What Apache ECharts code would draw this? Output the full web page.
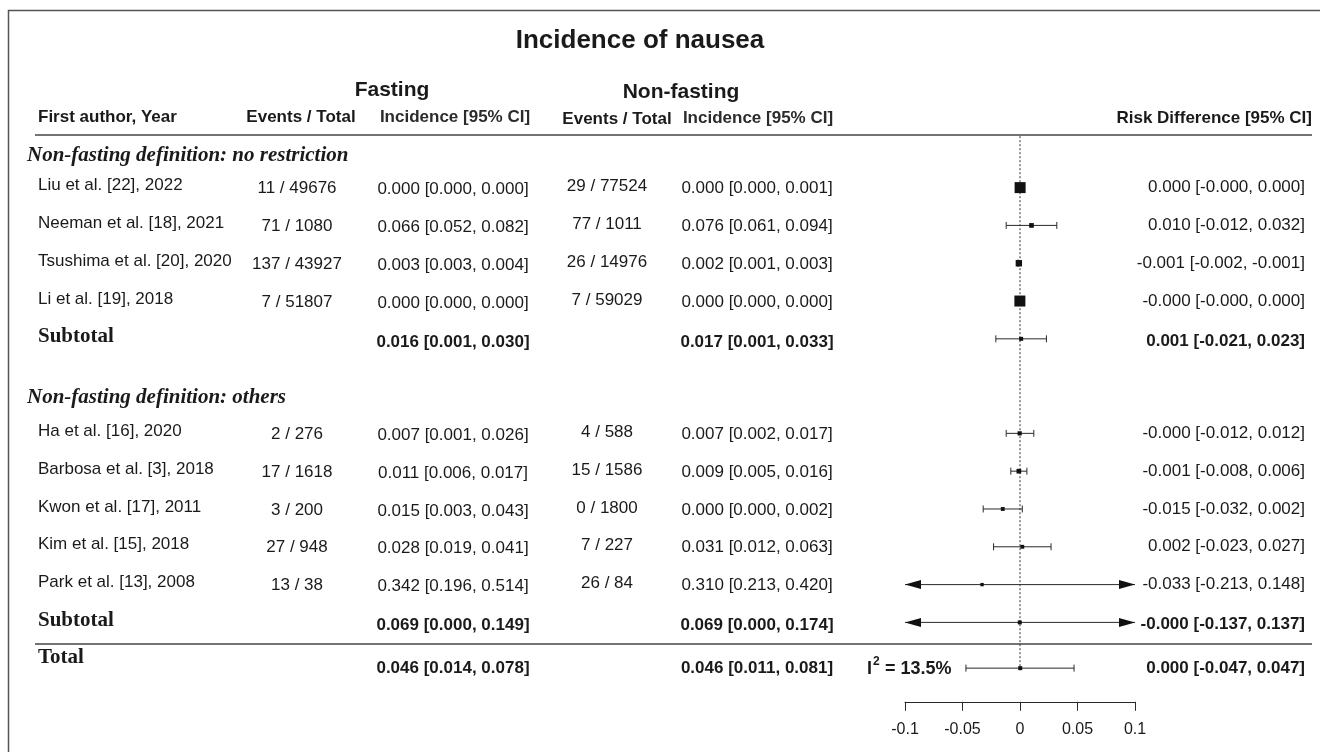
<!DOCTYPE html>
<html>
<head>
<meta charset="utf-8">
<script src="https://cdn.jsdelivr.net/npm/echarts@6/dist/echarts.min.js"></script>
<style>html,body{margin:0;padding:0;background:#fff}#c{width:1320px;height:752px}</style>
</head>
<body>
<div id="c"></div>
<script>
// ---------------- DATA ----------------
const chartTitle = 'Incidence of nausea';
const groupLabels = ['Non-fasting definition: no restriction', 'Non-fasting definition: others'];
const studies = ['Liu et al. [22], 2022', 'Neeman et al. [18], 2021', 'Tsushima et al. [20], 2020', 'Li et al. [19], 2018',
  'Ha et al. [16], 2020', 'Barbosa et al. [3], 2018', 'Kwon et al. [17], 2011', 'Kim et al. [15], 2018', 'Park et al. [13], 2008'];
const studyGroup = [0, 0, 0, 0, 1, 1, 1, 1, 1];
const fastEvents = [11, 71, 137, 7, 2, 17, 3, 27, 13];
const fastTotal = [49676, 1080, 43927, 51807, 276, 1618, 200, 948, 38];
const fastInc = [[0.000, 0.000, 0.000], [0.066, 0.052, 0.082], [0.003, 0.003, 0.004], [0.000, 0.000, 0.000],
  [0.007, 0.001, 0.026], [0.011, 0.006, 0.017], [0.015, 0.003, 0.043], [0.028, 0.019, 0.041], [0.342, 0.196, 0.514]];
const nonEvents = [29, 77, 26, 7, 4, 15, 0, 7, 26];
const nonTotal = [77524, 1011, 14976, 59029, 588, 1586, 1800, 227, 84];
const nonInc = [[0.000, 0.000, 0.001], [0.076, 0.061, 0.094], [0.002, 0.001, 0.003], [0.000, 0.000, 0.000],
  [0.007, 0.002, 0.017], [0.009, 0.005, 0.016], [0.000, 0.000, 0.002], [0.031, 0.012, 0.063], [0.310, 0.213, 0.420]];
const riskDiff = [[0.0001, -0.0001, 0.0003], [0.010, -0.012, 0.032], [-0.001, -0.002, -0.001], [-0.0001, -0.0003, 0.0001],
  [-0.0003, -0.012, 0.012], [-0.001, -0.008, 0.006], [-0.015, -0.032, 0.002], [0.002, -0.023, 0.027], [-0.033, -0.213, 0.148]];
const studyWeights = [45, 2, 8, 45, 1, 2, 0.5, 0.5, 0.1];
const subFastInc = [[0.016, 0.001, 0.030], [0.069, 0.000, 0.149]];
const subNonInc = [[0.017, 0.001, 0.033], [0.069, 0.000, 0.174]];
const subRiskDiff = [[0.001, -0.021, 0.023], [-0.0002, -0.137, 0.137]];
const totalFastInc = [0.046, 0.014, 0.078];
const totalNonInc = [0.046, 0.011, 0.081];
const totalRiskDiff = [0.0002, -0.047, 0.047];
const i2Value = 13.5;
const xTicks = [-0.1, -0.05, 0, 0.05, 0.1];

// ---------------- LAYOUT / STYLE ----------------
const SANS = "'Liberation Sans', Arial, Helvetica, sans-serif";
const SERIF = "'Liberation Serif', 'Times New Roman', serif";
const INK = '#1a1a1a';
const LINE = '#2a2a2a';
const FS = 17;
const X = { group: 27, name: 38, fe: 297, fi: 453, ne: 607, ni: 757, rd: 1305 };
const GROUP_HDR_OFFSET = [0.86, 0.94];
const GROUP_FIRST = [0, 6.5];
const TOTAL_ROW = 12.71, REF_TOP = -1.36, REF_BOTTOM = 12.81;

function fmt(v) { return (v < 0 ? '-' : '') + Math.abs(v).toFixed(3); }
function ci(t) { return fmt(t[0]) + ' [' + fmt(t[1]) + ', ' + fmt(t[2]) + ']'; }

// Build table rows and forest items from the data arrays
const tableRows = [];
const forestItems = [];
const maxW = Math.max.apply(null, studyWeights);
groupLabels.forEach(function (g, gi) {
  const first = GROUP_FIRST[gi];
  tableRows.push({ kind: 'group', row: first - GROUP_HDR_OFFSET[gi], text: g });
  let k = 0;
  studies.forEach(function (s, i) {
    if (studyGroup[i] !== gi) return;
    const row = first + k; k++;
    tableRows.push({ kind: 'study', row: row, i: i });
    forestItems.push([riskDiff[i][0], riskDiff[i][1], riskDiff[i][2], row, 3 + 8 * Math.sqrt(studyWeights[i] / maxW)]);
  });
  const subRow = first + k;
  tableRows.push({ kind: 'sub', row: subRow, g: gi });
  forestItems.push([subRiskDiff[gi][0], subRiskDiff[gi][1], subRiskDiff[gi][2], subRow, 4]);
});
tableRows.push({ kind: 'total', row: TOTAL_ROW });
forestItems.push([totalRiskDiff[0], totalRiskDiff[1], totalRiskDiff[2], TOTAL_ROW, 4]);

function txt(x, y, text, o) {
  o = o || {};
  return {
    type: 'text', x: x, y: y, silent: true,
    style: {
      text: text, fill: INK, align: o.align || 'left', verticalAlign: 'middle',
      fontSize: o.size || FS, fontFamily: o.family || SANS,
      fontWeight: o.weight || 'normal', fontStyle: o.style || 'normal'
    }
  };
}

function renderTable(params, api) {
  const d = tableRows[params.dataIndex];
  const y = api.coord([0, api.value(1)])[1];
  const c = [];
  if (d.kind === 'group') {
    c.push(txt(X.group, y, d.text, { family: SERIF, size: 21, weight: 'bold', style: 'italic' }));
  } else if (d.kind === 'study') {
    const i = d.i;
    c.push(txt(X.name, y - 2, studies[i]));
    c.push(txt(X.fe, y + 1, fastEvents[i] + ' / ' + fastTotal[i], { align: 'center' }));
    c.push(txt(X.fi, y + 2, ci(fastInc[i]), { align: 'center' }));
    c.push(txt(X.ne, y - 1, nonEvents[i] + ' / ' + nonTotal[i], { align: 'center' }));
    c.push(txt(X.ni, y + 1, ci(nonInc[i]), { align: 'center' }));
    c.push(txt(X.rd, y, ci(riskDiff[i]), { align: 'right' }));
  } else if (d.kind === 'sub') {
    const g = d.g;
    c.push(txt(X.name, y - 2, 'Subtotal', { family: SERIF, size: 21, weight: 'bold' }));
    c.push(txt(X.fi, y + 3, ci(subFastInc[g]), { align: 'center', weight: 'bold' }));
    c.push(txt(X.ni, y + 3, ci(subNonInc[g]), { align: 'center', weight: 'bold' }));
    c.push(txt(X.rd, y + 2, ci(subRiskDiff[g]), { align: 'right', weight: 'bold' }));
  } else if (d.kind === 'total') {
    c.push(txt(X.name, y - 11, 'Total', { family: SERIF, size: 21, weight: 'bold' }));
    c.push(txt(X.fi, y, ci(totalFastInc), { align: 'center', weight: 'bold' }));
    c.push(txt(X.ni, y, ci(totalNonInc), { align: 'center', weight: 'bold' }));
    c.push(txt(X.rd, y, ci(totalRiskDiff), { align: 'right', weight: 'bold' }));
    c.push(txt(867, y + 1, 'I', { size: 18, weight: 'bold' }));
    c.push(txt(873, y - 6, '2', { size: 12, weight: 'bold' }));
    c.push(txt(880, y + 1, ' = ' + i2Value.toFixed(1) + '%', { size: 18, weight: 'bold' }));
  }
  return { type: 'group', children: c };
}

function renderForest(params, api) {
  const est = api.value(0), lo = api.value(1), hi = api.value(2), row = api.value(3), size = api.value(4);
  const xmin = xTicks[0], xmax = xTicks[xTicks.length - 1];
  const y = api.coord([0, row])[1];
  const pLo = api.coord([Math.max(lo, xmin), row])[0];
  const pHi = api.coord([Math.min(hi, xmax), row])[0];
  const pE = api.coord([est, row])[0];
  const ls = { stroke: LINE, lineWidth: 1 };
  const c = [{ type: 'line', shape: { x1: pLo, y1: y, x2: pHi, y2: y }, style: ls }];
  const cap = 3.5, aL = 16, aH = 4.5;
  if (lo >= xmin) c.push({ type: 'line', shape: { x1: pLo, y1: y - cap, x2: pLo, y2: y + cap }, style: ls });
  else c.push({ type: 'polygon', shape: { points: [[pLo, y], [pLo + aL, y - aH], [pLo + aL, y + aH]] }, style: { fill: '#111' } });
  if (hi <= xmax) c.push({ type: 'line', shape: { x1: pHi, y1: y - cap, x2: pHi, y2: y + cap }, style: ls });
  else c.push({ type: 'polygon', shape: { points: [[pHi, y], [pHi - aL, y - aH], [pHi - aL, y + aH]] }, style: { fill: '#111' } });
  c.push({ type: 'rect', shape: { x: pE - size / 2, y: y - size / 2, width: size, height: size }, style: { fill: '#111' } });
  return { type: 'group', children: c };
}

const chart = echarts.init(document.getElementById('c'), null, { renderer: 'canvas' });
chart.setOption({
  animation: false,
  backgroundColor: '#fff',
  grid: { left: 905, right: 185, top: 130.9, bottom: 50.2, containLabel: false, outerBoundsMode: 'none' },
  xAxis: {
    type: 'value', min: xTicks[0], max: xTicks[xTicks.length - 1], interval: 0.05,
    axisLine: { show: true, onZero: false, lineStyle: { color: LINE, width: 1 } },
    axisTick: { show: true, length: 9, lineStyle: { color: LINE, width: 1 } },
    splitLine: { show: false },
    axisLabel: { fontSize: 16, color: INK, fontFamily: SANS, margin: 20, formatter: function (v) { return String(+v.toFixed(2)); } }
  },
  yAxis: { type: 'value', min: -1.5, max: 13.6, inverse: true, show: false, splitLine: { show: false } },
  graphic: [
    { type: 'rect', z: -10, silent: true, shape: { x: 8.5, y: 10.5, width: 1400, height: 800 }, style: { fill: 'none', stroke: '#555', lineWidth: 1.5 } },
    { type: 'text', x: 640, y: 41, silent: true, style: { text: chartTitle, fill: INK, align: 'center', verticalAlign: 'middle', fontSize: 26, fontWeight: 'bold', fontFamily: SANS } },
    { type: 'text', x: 392, y: 90, silent: true, style: { text: 'Fasting', fill: INK, align: 'center', verticalAlign: 'middle', fontSize: 21, fontWeight: 'bold', fontFamily: SANS } },
    { type: 'text', x: 681, y: 92, silent: true, style: { text: 'Non-fasting', fill: INK, align: 'center', verticalAlign: 'middle', fontSize: 21, fontWeight: 'bold', fontFamily: SANS } },
    { type: 'text', x: 38, y: 117, silent: true, style: { text: 'First author, Year', fill: INK, align: 'left', verticalAlign: 'middle', fontSize: FS, fontWeight: 'bold', fontFamily: SANS } },
    { type: 'text', x: 301, y: 117, silent: true, style: { text: 'Events / Total', fill: INK, align: 'center', verticalAlign: 'middle', fontSize: FS, fontWeight: 'bold', fontFamily: SANS } },
    { type: 'text', x: 455, y: 117, silent: true, style: { text: 'Incidence [95% CI]', fill: '#2b2b2b', align: 'center', verticalAlign: 'middle', fontSize: FS, fontWeight: 'bold', fontFamily: SANS } },
    { type: 'text', x: 617, y: 119, silent: true, style: { text: 'Events / Total', fill: INK, align: 'center', verticalAlign: 'middle', fontSize: FS, fontWeight: 'bold', fontFamily: SANS } },
    { type: 'text', x: 758, y: 118, silent: true, style: { text: 'Incidence [95% CI]', fill: '#2b2b2b', align: 'center', verticalAlign: 'middle', fontSize: FS, fontWeight: 'bold', fontFamily: SANS } },
    { type: 'text', x: 1312, y: 118, silent: true, style: { text: 'Risk Difference [95% CI]', fill: INK, align: 'right', verticalAlign: 'middle', fontSize: FS, fontWeight: 'bold', fontFamily: SANS } },
    { type: 'line', silent: true, shape: { x1: 35, y1: 135, x2: 1312, y2: 135 }, style: { stroke: '#444', lineWidth: 1.4 } },
    { type: 'line', silent: true, shape: { x1: 35, y1: 644, x2: 1312, y2: 644 }, style: { stroke: '#444', lineWidth: 1.4 } }
  ],
  series: [
    {
      type: 'line', silent: true, symbol: 'none', z: 1,
      data: [[0, REF_TOP], [0, REF_BOTTOM]],
      lineStyle: { color: '#333', width: 1, type: [2, 2] }
    },
    {
      type: 'custom', clip: false, silent: true, z: 3,
      encode: { x: [0, 1, 2], y: 3 },
      data: forestItems,
      renderItem: renderForest
    },
    {
      type: 'custom', clip: false, silent: true, z: 4,
      encode: { x: 0, y: 1 },
      data: tableRows.map(function (r) { return [0, r.row]; }),
      renderItem: renderTable
    }
  ]
});
</script>
</body>
</html>
